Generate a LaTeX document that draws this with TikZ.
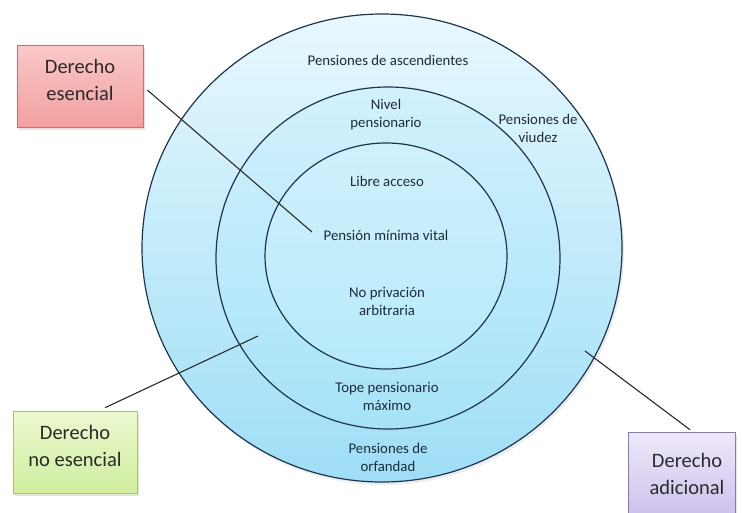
\documentclass[tikz,border=0pt]{standalone}
\usepackage{fontspec}
\setmainfont{Carlito}
\usetikzlibrary{shadows}
\definecolor{ringline}{HTML}{1E3550}
\definecolor{lbltext}{HTML}{1E2B38}
\definecolor{boxtext}{HTML}{2A2A2A}
\definecolor{connc}{HTML}{2A2A2A}
\definecolor{outtop}{HTML}{E8F8FE}
\definecolor{outbot}{HTML}{9EDEF6}
\definecolor{midtop}{HTML}{D2F1FC}
\definecolor{midbot}{HTML}{A6E3F8}
\definecolor{inntop}{HTML}{D0F0FC}
\definecolor{innbot}{HTML}{B6EAFA}
\begin{document}
\begin{tikzpicture}[x=1pt,y=-1pt,
  ring/.style={draw=ringline, line width=1.2pt},
  lbl/.style={font=\fontsize{14.8}{18}\selectfont, text=lbltext, align=center},
  boxlbl/.style={font=\fontsize{20.5}{27}\selectfont, text=boxtext, align=center},
  labelbox/.style={rectangle, line width=0.6pt, inner sep=0pt,
    drop shadow={shadow xshift=2pt, shadow yshift=-2.5pt, opacity=0.22}},
  conn/.style={draw=connc, line width=1.1pt}]
\useasboundingbox (0,0) rectangle (743,512);
% rings
\fill[black, opacity=0.07] (384,251) ellipse [x radius=240pt, y radius=234pt];
\path[ring, top color=outtop, bottom color=outbot]
  (382,248) ellipse [x radius=240pt, y radius=234pt];
\path[ring, top color=midtop, bottom color=midbot]
  (388,258) ellipse [x radius=172pt, y radius=171pt];
\path[ring, top color=inntop, bottom color=innbot]
  (386,256) ellipse [x radius=121pt, y radius=113pt];
% ring labels
\node[lbl] (asc) at (388,60) {Pensiones de ascendientes};
\node[lbl] (viu) at (538,128) {Pensiones de\\viudez};
\node[lbl] (niv) at (386,115) {Nivel\\pensionario};
\node[lbl] (lib) at (387,181) {Libre acceso};
\node[lbl] (pmv) at (386,235) {Pensión mínima vital};
\node[lbl] (npa) at (387,301) {No privación\\arbitraria};
\node[lbl] (tpm) at (387,396) {Tope pensionario\\máximo};
\node[lbl] (orf) at (388,457) {Pensiones de\\orfandad};
% label boxes
\node[labelbox, draw={rgb,255:red,205;green,110;blue,110}, top color={rgb,255:red,249;green,200;blue,200}, bottom color={rgb,255:red,242;green,160;blue,160},
  minimum width=126pt, minimum height=82pt] (rb) at (80,86) {};
\node[boxlbl] (rbt) at (80,80) {Derecho\\esencial};
\node[labelbox, draw={rgb,255:red,166;green,196;blue,106}, top color={rgb,255:red,236;green,248;blue,208}, bottom color={rgb,255:red,208;green,238;blue,158},
  minimum width=124pt, minimum height=82pt] (gb) at (75,452) {};
\node[boxlbl] (gbt) at (75,446) {Derecho\\no esencial};
\node[labelbox, draw={rgb,255:red,141;green,119;blue,184}, top color={rgb,255:red,238;green,233;blue,249}, bottom color={rgb,255:red,205;green,193;blue,236},
  minimum width=107pt, minimum height=83pt] (pb) at (681.5,473.5) {};
\node[boxlbl] (pbt) at (687,473.5) {Derecho\\adicional};
% connectors
\coordinate (e1) at (312,232);
\coordinate (e2) at (258,336);
\coordinate (e3) at (585,351);
\draw[conn] ([xshift=4pt,yshift=-4pt]rb.east) -- (e1);
\draw[conn] ([xshift=30pt,yshift=3pt]gb.north) -- (e2);
\draw[conn] (e3) -- ([xshift=8.5pt,yshift=2pt]pb.north);
\end{tikzpicture}
\end{document}
